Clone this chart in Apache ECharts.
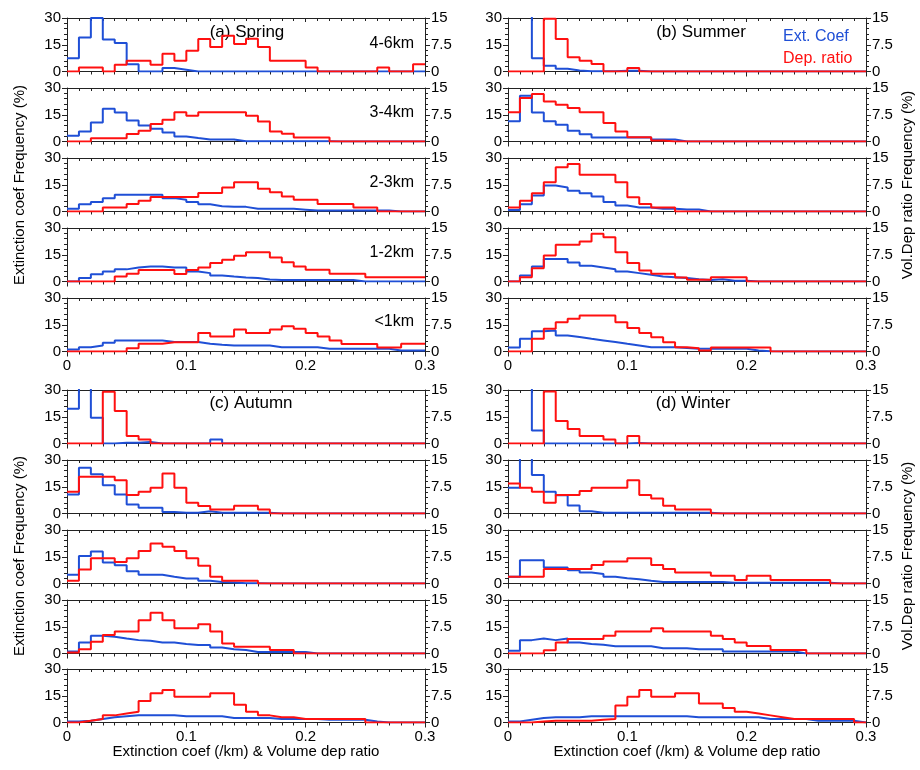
<!DOCTYPE html>
<html><head><meta charset="utf-8">
<script src="https://cdn.jsdelivr.net/npm/echarts@6/dist/echarts.min.js"></script>
<style>html,body{margin:0;padding:0;background:#fff}#c{width:920px;height:770px}</style>
</head><body><div id="c"></div><script>
// ---- data ----
const binEdges = [0,0.01,0.02,0.03,0.04,0.05,0.06,0.07,0.08,0.09,0.1,0.11,0.12,0.13,0.14,0.15,0.16,0.17,0.18,0.19,0.2,0.21,0.22,0.23,0.24,0.25,0.26,0.27,0.28,0.29,0.3];
const altitudes = ['4-6km','3-4km','2-3km','1-2km','<1km'];
const seasons = ['(a) Spring','(b) Summer','(c) Autumn','(d) Winter'];
const leftTicks = [0,15,30];
const rightTicks = [0,7.5,15];

const springExt = [
 [7.5,19,30,18,16,4,0,0,2,1,0,0,0,0,0,0,0,0,0,0,0,0,0,0,0,0,0,0,0,0],
 [3.2,5.6,10.7,18.4,16.3,11.8,9,7.1,5,2.8,1.9,1.1,1.1,1.1,0.2,0.2,0.2,0.2,0.2,0.2,0.2,0.2,0,0,0,0,0,0,0,0],
 [1.5,4.1,5.3,7.5,9.4,9.4,9.4,9.4,7.5,6.6,5.3,4.1,3,2.6,2.6,1.5,1.5,1.5,1.5,1,0.5,0.5,0.5,0.5,0.5,0.5,0.5,0,0,0],
 [0,1.9,4.1,5.6,6.8,7.9,8.4,8.4,7.9,7.9,5.6,4.7,3.4,2.8,2.3,1.9,1.1,0.8,0.8,0.8,0.8,0.8,0.8,0.8,0,0,0,0,0,0],
 [1.1,2.4,3.4,4.9,6.2,6.2,6.2,6.2,5.3,5.3,5.3,4.3,3.8,3.4,3.4,3.4,3.4,2.4,2.4,2.4,2.4,1.5,1.5,1.5,1.5,1.5,1.5,0.6,0.6,0.6]
];
const springDep = [
 [0,1.1,1.1,0,1.9,3,3,1.9,5,3,5.8,9.1,6.9,10,7.7,9.2,6.9,3,3,3,1.1,0,0,0,0,0,1.1,0,0,2],
 [0,0,0.9,0.9,0.9,2.1,3,4.9,6.1,8.2,7.2,8.2,8.2,8.2,8.2,7.2,5.6,2.8,2.2,1.1,1.1,1.1,0,0,0,0,0,0,0,0],
 [0,0,0,1.1,1.1,2.1,3,4.1,4.1,4.1,4.1,5.2,5.2,6.7,8.2,8.2,6.4,5.4,4.2,3.3,3.3,2.1,2.1,2.1,1.1,1.1,0,0,0,0],
 [0,0,0,0,1.4,2.2,3.2,3.2,3.2,2.1,3.2,3.9,5.2,6.1,7.2,8.2,8.2,6.7,5.4,4.2,3.3,3.3,2.2,2.2,2.2,1.2,1.2,1.2,1.2,1.2],
 [0,0,0,0,0,0.9,2.2,2.2,2.6,2.6,2.6,5.2,4.2,4.2,6.2,5.2,5.2,6.2,7.1,6.4,5.2,4.2,3.1,2.1,2.1,2.1,1.1,1.1,2.2,2.2]
];
const summerExt = [
 [40,40,7.5,3.2,1.5,0.6,0.2,0.2,0.2,0.4,0.4,0,0,0,0,0,0,0,0,0,0,0,0,0,0,0,0,0,0,0],
 [11.3,25.7,16.3,11.3,9.4,6,4.1,2.3,2.3,2.3,2.3,2.3,1.1,1.1,0,0,0,0,0,0,0,0,0,0,0,0,0,0,0,0],
 [0.9,4,9,14.6,13.5,11.6,10.3,8.4,5.3,3.4,2.3,2.3,1.5,1.5,1.1,1.1,0,0,0,0,0,0,0,0,0,0,0,0,0,0],
 [0,3.4,8.4,12.6,12.6,10.7,8.8,7.9,6.9,5.6,4.7,3.8,2.8,2.4,1.9,1.3,0.9,1.3,0.4,0.4,0,0,0,0,0,0,0,0,0,0],
 [2.3,7.1,11.4,11.8,9,8.1,7.1,6.2,5.3,4.3,3.4,2.4,2.4,2.4,1.9,1.5,1.5,1.5,1.5,1.5,0.6,0.2,0,0,0,0,0,0,0,0]
];
const summerDep = [
 [0,0,0,14.8,9.1,4,3,2.1,0,0,1,0,0,0,0,0,0,0,0,0,0,0,0,0,0,0,0,0,0,0],
 [8.2,12.2,13.3,11.2,10.3,9.4,8.2,8.2,5.2,2.8,1.2,1.2,0.3,0,0,0,0,0,0,0,0,0,0,0,0,0,0,0,0,0],
 [1.1,3,5.1,8.2,12.4,13.3,10.3,10.3,10.3,8.2,4,2.1,1.1,1.1,0,0,0,0,0,0,0,0,0,0,0,0,0,0,0,0],
 [0,1.2,3.7,7.3,10.3,10.3,11.2,13.4,12.4,8.2,5.2,3.1,2.2,2.2,1.1,0.5,0.5,1.2,1.2,1.2,0,0,0,0,0,0,0,0,0,0],
 [0,0,3.6,6.4,8.2,9.2,10.1,10.1,10.1,8.2,6.6,5.2,4,2.6,1.2,0.9,0.3,1.1,1.1,1.1,1.1,1.1,0,0,0,0,0,0,0,0]
];
const autumnExt = [
 [19.5,40,14.4,0,0.4,0.4,0.8,0,0,0,0,0,2.3,0,0,0,0,0,0,0,0,0,0,0,0,0,0,0,0,0],
 [10.7,25.7,22,15.8,10.7,5.1,3.2,3.2,0.9,0.4,0.4,1.3,0.4,0.4,0.4,0.4,0.4,0,0,0,0,0,0,0,0,0,0,0,0,0],
 [4.9,15.4,18,11.8,10.3,6.8,4.9,4.9,3.8,2.8,2.8,1.5,0.9,0.6,0.2,0.2,0,0,0,0,0,0,0,0,0,0,0,0,0,0],
 [1.1,6.2,9.9,9.4,8.4,7.5,7.1,6.2,6.2,5.3,4.7,4.7,3.4,2.4,1.9,0.9,0.9,0.9,0.9,0.9,0,0,0,0,0,0,0,0,0,0],
 [0.5,1,2,3,3.5,4,4,4,4,3.5,3.5,3.5,3.5,2.5,2.5,2.5,2.5,2,2,2,2,1.5,1.5,1.5,1.5,0.5,0,0,0,0]
];
const autumnDep = [
 [0,0,0,14.5,9.1,2.1,1.1,0,0,0,0,0,0,0,0,0,0,0,0,0,0,0,0,0,0,0,0,0,0,0],
 [6.1,10.3,10.3,10.3,9.3,5.2,6.1,7.2,11.2,7.2,3,2.1,1.1,1.1,2.2,2.2,1.1,0,0,0,0,0,0,0,0,0,0,0,0,0],
 [0.8,3.9,7.1,7.1,6,7.1,9.1,11.2,10.3,9.1,7.1,5,1.9,0.8,0.8,0.8,0,0,0,0,0,0,0,0,0,0,0,0,0,0],
 [0.3,1.2,3.3,5.2,6.2,6.2,9.3,11.4,9.3,7.1,7.1,8.2,6.2,2.8,1.9,1.9,1.9,1,1,0,0,0,0,0,0,0,0,0,0,0],
 [0,0.5,1,2,2.5,3,6,8.2,9.1,7.2,7.2,7.2,8.2,8.2,5,3,2,1.5,1.5,1,1,1,1,1,1,0,0,0,0,0]
];
const winterExt = [
 [40,40,7.3,0,0,0,0,0,0,0,0.3,0,0,0,0,0,0,0,0,0,0,0,0,0,0,0,0,0,0,0],
 [14.4,40,21.6,12.2,10.3,4.5,1.3,0.4,0.4,0.4,0.4,0.4,0.4,0.4,0.4,0.4,0.4,0,0,0,0,0,0,0,0,0,0,0,0,0],
 [3.8,13.1,13.1,9,9,7.5,6.2,5.3,3.8,3,2.4,1.5,0.9,0.9,0.9,0.9,0.9,0.9,0.4,0.4,0.4,0.4,0.4,0.4,0.4,0.4,0.4,0,0,0],
 [1.5,7.5,8.4,7.5,8.4,6.2,5.3,4.9,4.1,4.1,4.1,4.1,3,3,3,2.4,2.4,2.4,1.1,1.1,1.1,1.1,1.1,1.1,0,0,0,0,0,0],
 [0.5,1.5,2.5,3,3,3,3.5,3.5,3.5,3.5,3.5,3.5,3.5,3.5,3.5,3,3,3,3,3,3,2,2,2,2,1,1,1,1,0]
];
const winterDep = [
 [0,0,0,14.6,6.3,4.1,2.1,2.1,1.1,0,2.1,0,0,0,0,0,0,0,0,0,0,0,0,0,0,0,0,0,0,0],
 [8.4,7.2,6.1,3,5.2,5.2,6.3,7.2,7.2,7.2,9.3,5.2,4.2,2.2,1.1,1.1,1.1,0,0,0,0,0,0,0,0,0,0,0,0,0],
 [1.9,1.9,1.9,4.1,4.1,4.1,4.1,5.2,6.2,6.2,7.1,7.1,5.2,4.1,3.1,3.1,3.1,2.2,2.2,1,2.2,2.2,1,1,1,1,1,0,0,0],
 [0,0,0,0.9,3.1,4.1,4.1,4.1,5,6.2,6.2,6.2,7.1,6.2,6.2,6.2,6.2,5,4.1,3.1,2.1,2.1,1,1,1,0,0,0,0,0],
 [0,0,0.3,0.5,0.5,0.5,0.5,0.8,1,4.8,7.2,9.1,7.2,7.2,8.2,8.2,5.3,5.3,4.1,3,2.5,2,1.5,1,1,1,1,1,1,0]
];

// ---- layout ----
const FONT = '"Liberation Sans", Arial, Helvetica, sans-serif';
const panelLeft = [67, 508, 67, 508];
const panelRowTops = [[18,88,158,228,298],[18,88,158,228,298],[390,460,530,600,669],[390,460,530,600,669]];
const panelW = 358, rowH = 53.5;
const extSets = [springExt, summerExt, autumnExt, winterExt];
const depSets = [springDep, summerDep, autumnDep, winterDep];
const BLUE = '#1f4fd6', RED = '#ff1010', AX = '#222';

function toSteps(vals){
  const pts = vals.map((v,i)=>[binEdges[i], v]);
  pts.push([binEdges[binEdges.length-1], vals[vals.length-1]]);
  return pts;
}

const grid = [], xAxis = [], yAxis = [], series = [];
let g = 0;
for (let p = 0; p < 4; p++) {
  for (let r = 0; r < 5; r++) {
    grid.push({left: panelLeft[p], top: panelRowTops[p][r], width: panelW, height: rowH, containLabel: false, outerBoundsMode: 'none'});
    const lastRow = r === 4;
    xAxis.push({
      type: 'value', gridIndex: g, position: 'bottom', min: 0, max: 0.3, interval: 0.1,
      axisLine: {show: true, onZero: false, lineStyle: {color: AX, width: 1}},
      axisTick: {show: true, length: 5, lineStyle: {color: AX}},
      minorTick: {show: true, splitNumber: 10, length: 3, lineStyle: {color: AX}},
      splitLine: {show: false},
      axisLabel: {show: lastRow, color: '#000', fontSize: 15, fontFamily: FONT, margin: 7,
        formatter: v => (Math.round(v*10)/10).toString()}
    });
    xAxis.push({
      type: 'value', gridIndex: g, position: 'top', min: 0, max: 0.3, interval: 0.1,
      axisLine: {show: true, onZero: false, lineStyle: {color: AX, width: 1}},
      axisTick: {show: true, inside: true, length: 4, lineStyle: {color: AX}},
      minorTick: {show: true, splitNumber: 10, length: 3, lineStyle: {color: AX}},
      splitLine: {show: false}, axisLabel: {show: false}
    });
    yAxis.push({
      type: 'value', gridIndex: g, position: 'left', min: leftTicks[0], max: leftTicks[2], interval: leftTicks[1]-leftTicks[0],
      axisLine: {show: true, onZero: false, lineStyle: {color: AX, width: 1}},
      axisTick: {show: true, length: 5, lineStyle: {color: AX}},
      minorTick: {show: true, splitNumber: 5, length: 3, lineStyle: {color: AX}},
      splitLine: {show: false},
      axisLabel: {color: '#000', fontSize: 15, fontFamily: FONT, margin: 6}
    });
    yAxis.push({
      type: 'value', gridIndex: g, position: 'right', min: rightTicks[0], max: rightTicks[2], interval: rightTicks[1]-rightTicks[0],
      axisLine: {show: true, onZero: false, lineStyle: {color: AX, width: 1}},
      axisTick: {show: true, length: 5, lineStyle: {color: AX}},
      minorTick: {show: true, splitNumber: 5, length: 3, lineStyle: {color: AX}},
      splitLine: {show: false},
      axisLabel: {color: '#000', fontSize: 15, fontFamily: FONT, margin: 6}
    });
    series.push({
      type: 'line', xAxisIndex: 2*g, yAxisIndex: 2*g, data: toSteps(extSets[p][r]),
      step: 'end', showSymbol: false, symbol: 'none', clip: true, animation: false,
      lineStyle: {color: BLUE, width: 2}, itemStyle: {color: BLUE}, z: 2
    });
    series.push({
      type: 'line', xAxisIndex: 2*g, yAxisIndex: 2*g+1, data: toSteps(depSets[p][r]),
      step: 'end', showSymbol: false, symbol: 'none', clip: true, animation: false,
      lineStyle: {color: RED, width: 2}, itemStyle: {color: RED}, z: 3
    });
    g++;
  }
}

const txt = (x, y, s, opts) => Object.assign({type: 'text', x, y, style: Object.assign({text: s, fill: '#000', font: '15px ' + FONT, textAlign: 'center', textVerticalAlign: 'middle'}, opts || {})});
const graphic = [
  txt(247, 32, seasons[0], {font: '17px ' + FONT}),
  txt(701, 32, seasons[1], {font: '17px ' + FONT}),
  txt(251, 403, seasons[2], {font: '17px ' + FONT}),
  txt(693, 403, seasons[3], {font: '17px ' + FONT}),
  txt(783, 37, 'Ext. Coef', {font: '16px ' + FONT, fill: BLUE, textAlign: 'left'}),
  txt(783, 59, 'Dep. ratio', {font: '16px ' + FONT, fill: RED, textAlign: 'left'}),
  txt(246, 752, 'Extinction coef (/km) & Volume dep ratio'),
  txt(687, 752, 'Extinction coef (/km) & Volume dep ratio')
];
altitudes.forEach((a, i) => graphic.push(txt(414, [44,113,183,253,322][i], a, {font: '16px ' + FONT, textAlign: 'right'})));
[185, 556].forEach(cy => {
  graphic.push({type: 'text', x: 20, y: cy, rotation: Math.PI/2, style: {text: 'Extinction coef Frequency (%)', fill: '#000', font: '15px ' + FONT, textAlign: 'center', textVerticalAlign: 'middle'}});
  graphic.push({type: 'text', x: 908, y: cy, rotation: Math.PI/2, style: {text: 'Vol.Dep ratio Frequency (%)', fill: '#000', font: '15px ' + FONT, textAlign: 'center', textVerticalAlign: 'middle'}});
});

const chart = echarts.init(document.getElementById('c'), null, {renderer: 'canvas'});
chart.setOption({animation: false, backgroundColor: '#fff', grid, xAxis, yAxis, series, graphic});
</script></body></html>
